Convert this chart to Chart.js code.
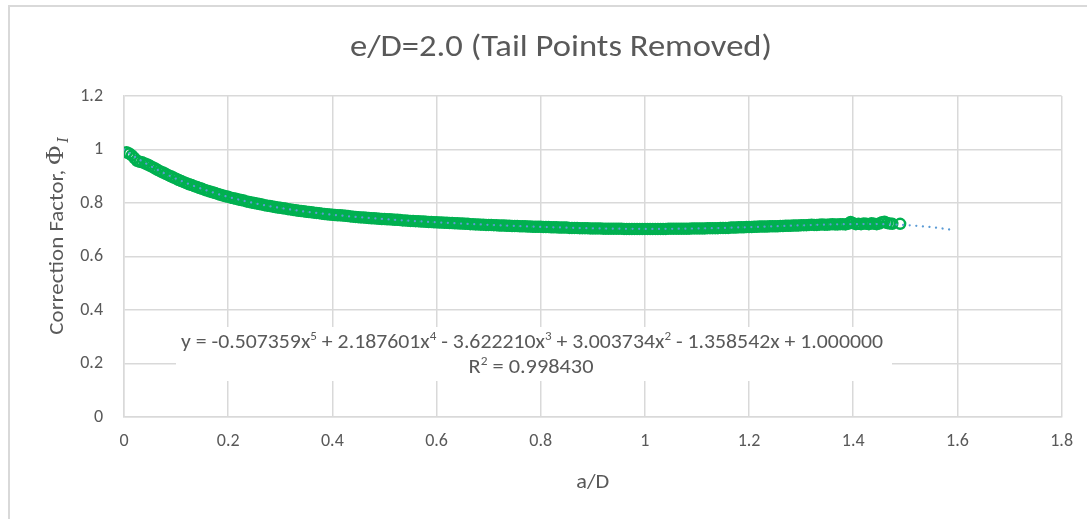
<!DOCTYPE html>
<html>
<head>
<meta charset="utf-8">
<title>e/D=2.0 (Tail Points Removed)</title>
<script src="https://cdn.jsdelivr.net/npm/chart.js@4.4.1/dist/chart.umd.min.js"></script>
<style>
  html, body { margin: 0; padding: 0; background: #ffffff; }
  #wrap { position: relative; width: 1087px; height: 519px; overflow: hidden; }
  canvas { display: block; }
</style>
</head>
<body>
<div id="wrap"><canvas id="chart" width="1087" height="519"></canvas></div>
<script>
// ---- data ----
const chartTitle = 'e/D=2.0 (Tail Points Removed)';
const xAxisTitle = 'a/D';
const yAxisTitle = 'Correction Factor, ';

// measured a/D positions
const aD = [
  0.005,0.010,0.015,0.020,0.025,0.030,0.035,0.040,0.045,0.050,
  0.055,0.060,0.065,0.070,0.075,0.080,0.085,0.090,0.095,0.100,
  0.105,0.110,0.115,0.120,0.125,0.130,0.135,0.140,0.145,0.150,
  0.155,0.160,0.165,0.170,0.175,0.180,0.185,0.190,0.195,0.200,
  0.205,0.210,0.215,0.220,0.225,0.230,0.235,0.240,0.245,0.250,
  0.255,0.260,0.265,0.270,0.275,0.280,0.285,0.290,0.295,0.300,
  0.305,0.310,0.315,0.320,0.325,0.330,0.335,0.340,0.345,0.350,
  0.355,0.360,0.365,0.370,0.375,0.380,0.385,0.390,0.395,0.400,
  0.405,0.410,0.415,0.420,0.425,0.430,0.435,0.440,0.445,0.450,
  0.455,0.460,0.465,0.470,0.475,0.480,0.485,0.490,0.495,0.500,
  0.505,0.510,0.515,0.520,0.525,0.530,0.535,0.540,0.545,0.550,
  0.555,0.560,0.565,0.570,0.575,0.580,0.585,0.590,0.595,0.600,
  0.605,0.610,0.615,0.620,0.625,0.630,0.635,0.640,0.645,0.650,
  0.655,0.660,0.665,0.670,0.675,0.680,0.685,0.690,0.695,0.700,
  0.705,0.710,0.715,0.720,0.725,0.730,0.735,0.740,0.745,0.750,
  0.755,0.760,0.765,0.770,0.775,0.780,0.785,0.790,0.795,0.800,
  0.805,0.810,0.815,0.820,0.825,0.830,0.835,0.840,0.845,0.850,
  0.855,0.860,0.865,0.870,0.875,0.880,0.885,0.890,0.895,0.900,
  0.905,0.910,0.915,0.920,0.925,0.930,0.935,0.940,0.945,0.950,
  0.955,0.960,0.965,0.970,0.975,0.980,0.985,0.990,0.995,1.000,
  1.005,1.010,1.015,1.020,1.025,1.030,1.035,1.040,1.045,1.050,
  1.055,1.060,1.065,1.070,1.075,1.080,1.085,1.090,1.095,1.100,
  1.105,1.110,1.115,1.120,1.125,1.130,1.135,1.140,1.145,1.150,
  1.155,1.160,1.165,1.170,1.175,1.180,1.185,1.190,1.195,1.200,
  1.205,1.210,1.215,1.220,1.225,1.230,1.235,1.240,1.245,1.250,
  1.255,1.260,1.265,1.270,1.275,1.280,1.285,1.290,1.295,1.300,
  1.305,1.310,1.315,1.320,1.325,1.330,1.335,1.340,1.345,1.350,
  1.355,1.360,1.365,1.370,1.375,1.380,1.385,1.390,1.395,1.400,
  1.405,1.410,1.415,1.420,1.425,1.430,1.435,1.440,1.445,1.450,
  1.455,1.460,1.465,1.470,1.475,1.490
];

// correction factor at each a/D
const phiI = [
  0.990,0.985,0.978,0.968,0.958,0.954,0.952,0.948,0.944,0.939,
  0.934,0.929,0.923,0.918,0.914,0.909,0.904,0.900,0.895,0.891,
  0.886,0.882,0.878,0.874,0.870,0.867,0.863,0.860,0.856,0.853,
  0.849,0.846,0.843,0.840,0.837,0.834,0.831,0.828,0.825,0.823,
  0.820,0.818,0.816,0.813,0.811,0.809,0.806,0.804,0.802,0.800,
  0.798,0.796,0.794,0.792,0.790,0.789,0.787,0.785,0.783,0.782,
  0.780,0.779,0.777,0.776,0.774,0.773,0.771,0.770,0.769,0.767,
  0.766,0.765,0.764,0.763,0.762,0.760,0.759,0.758,0.757,0.756,
  0.755,0.754,0.754,0.753,0.752,0.751,0.750,0.749,0.748,0.747,
  0.746,0.746,0.745,0.744,0.743,0.743,0.742,0.741,0.740,0.740,
  0.739,0.739,0.738,0.737,0.737,0.736,0.735,0.735,0.734,0.733,
  0.733,0.732,0.732,0.731,0.731,0.730,0.729,0.729,0.728,0.728,
  0.727,0.727,0.726,0.726,0.725,0.725,0.724,0.724,0.723,0.723,
  0.722,0.722,0.721,0.721,0.720,0.720,0.719,0.719,0.718,0.718,
  0.718,0.717,0.717,0.716,0.716,0.716,0.715,0.715,0.714,0.714,
  0.714,0.713,0.713,0.713,0.712,0.712,0.711,0.711,0.711,0.711,
  0.710,0.710,0.710,0.709,0.709,0.709,0.708,0.708,0.708,0.708,
  0.707,0.707,0.707,0.707,0.706,0.706,0.706,0.706,0.705,0.705,
  0.705,0.705,0.705,0.704,0.704,0.704,0.704,0.704,0.704,0.704,
  0.704,0.703,0.703,0.703,0.703,0.703,0.703,0.703,0.703,0.703,
  0.703,0.703,0.703,0.703,0.703,0.703,0.703,0.703,0.704,0.704,
  0.704,0.704,0.704,0.704,0.704,0.704,0.704,0.705,0.705,0.705,
  0.705,0.705,0.705,0.706,0.706,0.706,0.706,0.706,0.707,0.707,
  0.707,0.707,0.708,0.708,0.708,0.709,0.709,0.709,0.710,0.710,
  0.710,0.711,0.711,0.712,0.712,0.712,0.712,0.713,0.713,0.713,
  0.713,0.714,0.714,0.715,0.715,0.715,0.716,0.716,0.716,0.717,
  0.717,0.717,0.718,0.719,0.718,0.718,0.719,0.720,0.719,0.719,
  0.720,0.721,0.720,0.720,0.721,0.721,0.720,0.722,0.729,0.724,
  0.721,0.722,0.721,0.723,0.722,0.721,0.724,0.722,0.721,0.723,
  0.728,0.730,0.725,0.723,0.722,0.722
];

// 5th-order polynomial trendline, coefficients c0..c5 (as printed on the chart)
const trendCoef = [1.000000, -1.358542, 3.003734, -3.622210, 2.187601, -0.507359];
const trendForward = 0.1;           // forecast past last point
const rSquared = '0.998430';

const xTickValues = [0, 0.2, 0.4, 0.6, 0.8, 1.0, 1.2, 1.4, 1.6, 1.8];
const xTickLabels = ['0', '0.2', '0.4', '0.6', '0.8', '1', '1.2', '1.4', '1.6', '1.8'];
const yTickValues = [0, 0.2, 0.4, 0.6, 0.8, 1.0, 1.2];
const yTickLabels = ['0', '0.2', '0.4', '0.6', '0.8', '1', '1.2'];

// ---- styling ----
const SANS = "Carlito, Calibri, Lato, 'Open Sans', sans-serif";
const SERIF = "'Cambria Math', Cambria, 'Liberation Serif', 'DejaVu Serif', serif";
const TEXT = '#595959';
const GRID = '#d9d9d9';

const points = aD.map((x, i) => ({ x: x, y: phiI[i] }));

function polyVal(c, x) {
  let v = 0;
  for (let k = c.length - 1; k >= 0; k--) v = v * x + c[k];
  return v;
}
const trendEnd = aD[aD.length - 1] + trendForward;
const trendPts = [];
for (let i = 0; i <= 400; i++) {
  const x = trendEnd * i / 400;
  trendPts.push({ x: x, y: polyVal(trendCoef, x) });
}

// equation text pieces built from the coefficients
function eqSegments() {
  const segs = [{ t: 'y = ' }];
  for (let p = trendCoef.length - 1; p >= 0; p--) {
    const c = trendCoef[p];
    const mag = Math.abs(c).toFixed(6);
    let lead;
    if (p === trendCoef.length - 1) lead = (c < 0 ? '-' : '') + mag;
    else lead = (c < 0 ? ' - ' : ' + ') + mag;
    if (p >= 2) { segs.push({ t: lead + 'x' }); segs.push({ t: String(p), sup: true }); }
    else if (p === 1) segs.push({ t: lead + 'x' });
    else segs.push({ t: lead });
  }
  return segs;
}

// mixed-size text line, centred on cx and fitted to span `width` px
function drawRich(ctx, segs, cx, baseY, size, width, weight) {
  const w8 = weight ? weight + ' ' : '';
  const fBase = w8 + size + 'px ' + SANS;
  const fSup = w8 + Math.round(size * 0.62) + 'px ' + SANS;
  let total = 0;
  segs.forEach(s => { ctx.font = s.sup ? fSup : fBase; s.w = ctx.measureText(s.t).width; total += s.w; });
  const k = width ? width / total : 1;
  ctx.save();
  ctx.translate(cx, baseY);
  ctx.scale(k, 1);
  let x = -total / 2;
  ctx.textAlign = 'left';
  ctx.textBaseline = 'alphabetic';
  segs.forEach(s => {
    ctx.font = s.sup ? fSup : fBase;
    ctx.fillText(s.t, x, s.sup ? -size * 0.38 : 0);
    x += s.w;
  });
  ctx.restore();
}

const decorations = {
  id: 'decorations',
  beforeDraw(chart) {
    const ctx = chart.ctx;
    ctx.save();
    ctx.fillStyle = '#ffffff';
    ctx.fillRect(0, 0, chart.width, chart.height);
    // chart frame
    ctx.strokeStyle = GRID;
    ctx.lineWidth = 2;
    ctx.beginPath();
    ctx.moveTo(9, chart.height + 2);
    ctx.lineTo(9, 6);
    ctx.lineTo(chart.width + 2, 6);
    ctx.stroke();
    ctx.restore();
  },
  afterDatasetsDraw(chart) {
    const ctx = chart.ctx;
    const area = chart.chartArea;
    ctx.save();
    ctx.fillStyle = TEXT;

    // title
    drawRich(ctx, [{ t: chartTitle }], 561, 56, 30, 422, '300');

    // x axis title
    drawRich(ctx, [{ t: xAxisTitle }], (area.left + area.right) / 2, 488, 21, 33);

    // y axis title: "Correction Factor, Φ_I"
    const f1 = '21px ' + SANS, f2 = '26px ' + SERIF, f3 = 'italic 16px ' + SERIF;
    ctx.font = f1; const w1raw = ctx.measureText(yAxisTitle).width;
    const w1 = 170;
    const k1 = w1 / w1raw;
    ctx.font = f2; const w2 = ctx.measureText('\u03A6').width;
    ctx.font = f3; const w3 = ctx.measureText('I').width;
    const tot = w1 + w2 + w3 + 3;
    ctx.translate(63, 236);
    ctx.rotate(-Math.PI / 2);
    ctx.textAlign = 'left';
    ctx.textBaseline = 'alphabetic';
    let x = -tot / 2;
    ctx.save(); ctx.translate(x, 0); ctx.scale(k1, 1);
    ctx.font = f1; ctx.fillText(yAxisTitle, 0, 0);
    ctx.restore();
    x += w1;
    ctx.font = f2; ctx.fillText('\u03A6', x, 0); x += w2 + 3;
    ctx.font = f3; ctx.fillText('I', x, 5);
    ctx.setTransform(1, 0, 0, 1, 0, 0);

    // trendline label box
    ctx.fillStyle = '#ffffff';
    ctx.fillRect(176, 327, 716, 54);
    ctx.fillStyle = TEXT;
    drawRich(ctx, eqSegments(), 532, 348, 20, 702);
    drawRich(ctx, [{ t: 'R' }, { t: '2', sup: true }, { t: ' = ' + rSquared }], 531, 373, 20, 125);
    ctx.restore();
  }
};

new Chart(document.getElementById('chart'), {
  type: 'scatter',
  data: {
    datasets: [
      {
        label: 'Trendline',
        data: trendPts,
        showLine: true,
        order: 0,
        borderColor: '#5B9BD5',
        borderWidth: 2.25,
        borderDash: [0.001, 6.6],
        borderCapStyle: 'round',
        pointRadius: 0,
        pointHoverRadius: 0,
        tension: 0
      },
      {
        label: 'Phi_I',
        data: points,
        order: 1,
        pointStyle: 'circle',
        pointRadius: 5,
        pointHoverRadius: 5,
        pointBorderWidth: 2.5,
        pointBorderColor: '#00B050',
        pointBackgroundColor: 'rgba(0,0,0,0)',
        showLine: false
      }
    ]
  },
  options: {
    responsive: false,
    animation: false,
    events: [],
    layout: { padding: { left: 0, right: 25, top: 96, bottom: 62 } },
    plugins: {
      legend: { display: false },
      tooltip: { enabled: false },
      title: { display: false }
    },
    scales: {
      x: {
        type: 'linear',
        min: 0,
        max: 1.8,
        afterBuildTicks: s => { s.ticks = xTickValues.map(v => ({ value: v })); },
        afterFit: s => { s.height = 40; },
        ticks: {
          color: TEXT,
          font: { family: SANS, size: 18 },
          padding: 14,
          maxRotation: 0,
          callback: (v, i) => xTickLabels[i]
        },
        grid: { color: GRID, lineWidth: 1.5, drawTicks: false },
        border: { color: GRID, width: 1.5 }
      },
      y: {
        type: 'linear',
        min: 0,
        max: 1.2,
        afterBuildTicks: s => { s.ticks = yTickValues.map(v => ({ value: v })); },
        afterFit: s => { s.width = 124; },
        ticks: {
          color: TEXT,
          font: { family: SANS, size: 18 },
          padding: 21,
          callback: (v, i) => yTickLabels[i]
        },
        grid: { color: GRID, lineWidth: 1.5, drawTicks: false },
        border: { color: GRID, width: 1.5 }
      }
    }
  },
  plugins: [decorations]
});
</script>
</body>
</html>
